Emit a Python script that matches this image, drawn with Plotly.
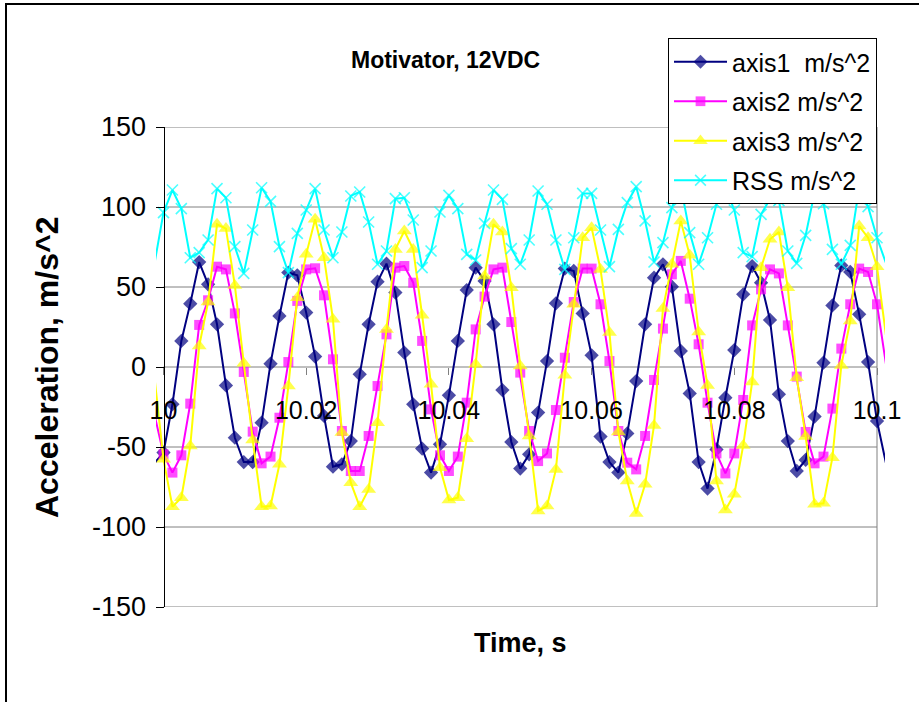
import plotly.graph_objects as go

# ---- data (acceleration samples, m/s^2) ----
T_START = 9.99875      # time of first sample, s
T_STEP = 0.00125       # sample period, s

axis1 = [-60, -53.5, -23.3, 16.3, 39.6, 65.6, 51.7, 26.7, -11.5, -44.2, -59.4,
         -59.4, -34.8, 2.1, 31.9, 59, 57.3, 34, 6.5, -30.6, -62.3,
         -60.8, -46.3, -4.6, 26.7, 53.3, 64.6, 46.5, 9, -23.3, -51,
         -66, -48.3, -17.7, 16.3, 48.1, 62.1, 53.8, 26.7, -14.4, -46.9,
         -63.5, -54.6, -28.5, 3.7, 39.8, 61.5, 60, 33.5, 7.3, -43.5,
         -59.4, -66, -41.5, -8.8, 26.7, 55.8, 64.2, 50.2, 10, -16.5,
         -59.4, -76, -51.5, -19.2, 10.6, 45.4, 63.1, 52.7, 29.4, -17.1,
         -46.3, -65, -58.1, -31, 2.7, 38.5, 63.5, 59.4, 32.9, 3.1,
         -33.8, -60]

axis2 = [-30, -54.6, -66, -55.2, -22.9, 26.3, 41.7, 62.7, 61, 33.5, -3.1,
         -40.4, -60.2, -56, -31.7, 3.1, 41.3, 61, 61.7, 44.8, 4.8,
         -40, -65, -65, -43.1, -11.9, 20.4, 62.1, 63.1, 52.7, 16.3,
         -26.5, -55.2, -65, -56, -22.3, 23.5, 44, 61, 62.1, 28.1,
         -3.5, -40, -58.8, -54, -26.9, 5.8, 40.6, 61.5, 61.5, 39.2,
         3.7, -40, -59.8, -64, -43.1, -8.1, 24, 57.9, 66.3, 42.7,
         14.2, -22.3, -54, -66.5, -54, -20.6, 26, 48.5, 61, 58.5,
         26, -6, -40.6, -60.2, -56, -26, 11.5, 39.2, 61.5, 59.4,
         39.2, 2]

axis3 = [-7, -57.7, -87.3, -81.7, -49.4, 13.1, 40.6, 89.2, 86.5, 51, 2.3,
         -45.6, -87.3, -86.9, -60.8, -11.9, 43.3, 70.4, 92.3, 68.3, 29.8,
         -41, -72.3, -87.3, -76.5, -34.8, 23.5, 73.5, 85, 73.5, 32.3,
         -10.8, -62.9, -83.1, -81.7, -44.8, 1.7, 56.9, 89.2, 84.4, 49.6,
         0.6, -43.1, -90, -86.9, -64, -5.2, 39.2, 80.8, 87.1, 61,
         21.5, -40.6, -71.3, -91.5, -73.3, -36.5, 36.5, 64.2, 91.3, 69.8,
         21.9, -11.5, -71.3, -89.4, -79.6, -49, -9.4, 62.1, 79.8, 84.4,
         49.6, -6.7, -43.5, -85.8, -85.2, -56.7, 1, 28.8, 88.1, 80.8,
         62.7, 20]

rss = [65, 96.5, 110.6, 99, 68.3, 71.5, 79.4, 111.5, 105.8, 75.2, 58.5,
       85.6, 112, 103.5, 75.2, 59, 83.5, 98.1, 111.5, 85.6, 68.3,
       84.4, 106.9, 109.4, 90.6, 64.2, 72.5, 105.2, 105.8, 91.9, 62.1,
       72.5, 96.9, 107.3, 99, 70.4, 66.9, 89.8, 110.6, 104.8, 74,
       64.2, 79.4, 110, 101.7, 79.4, 61, 80.8, 108.5, 108.5, 85.6,
       62.7, 86, 102.7, 112.7, 91.3, 65.6, 77.7, 99.6, 113, 84,
       64.2, 80.8, 101.7, 112, 98.1, 71.5, 69, 95.4, 105, 104,
       72.5, 64.8, 82.3, 109, 102, 73.5, 64.2, 76, 112, 100.2,
       80.8, 65]

series_names = ["axis1\u00a0 m/s^2", "axis2 m/s^2", "axis3 m/s^2", "RSS m/s^2"]

x_tick_vals = [10.0, 10.02, 10.04, 10.06, 10.08, 10.1]
x_tick_text = ["10", "10.02", "10.04", "10.06", "10.08", "10.1"]
y_tick_vals = [-150, -100, -50, 0, 50, 100, 150]
y_tick_text = ["-150", "-100", "-50", "0", "50", "100", "150"]

time = [round(T_START + T_STEP * k, 6) for k in range(len(axis1))]

# ---- page geometry ----
W, H = 919, 702
M_L, M_R, M_T, M_B = 156, 34, 127, 95
PW = W - M_L - M_R
PH = H - M_T - M_B
X0, X1 = 10.0, 10.1
PX_PER_S = 7135.0
X_RANGE = [X0 - 7.5 / PX_PER_S, X0 + (PW - 7.5) / PX_PER_S]


def paper_x(px):
    return (px - M_L) / PW


def paper_y(py):
    return (H - M_B - py) / PH


FONT = "Arial, 'Liberation Sans', sans-serif"

styles = [
    dict(color="#000080", symbol="diamond", size=11),
    dict(color="#FF00FF", symbol="square", size=10),
    dict(color="#FFFF00", symbol="triangle-up", size=13),
    dict(color="#00FFFF", symbol="x-thin", size=11),
]

fig = go.Figure()
n = len(time)
for k, (name, vals, st) in enumerate(zip(series_names, [axis1, axis2, axis3, rss], styles)):
    # first and last samples sit just outside the time window: line only
    sizes = [0] + [st["size"]] * (n - 2) + [0]
    marker = dict(symbol=st["symbol"], size=sizes, color=st["color"])
    if st["symbol"] == "x-thin":
        marker["line"] = dict(color=st["color"], width=1.6)
    else:
        marker["line"] = dict(width=0)
    fig.add_trace(go.Scatter(
        x=time, y=vals, name=name, mode="lines+markers",
        legendgroup=f"g{k}",
        line=dict(color=st["color"], width=2),
        marker=marker,
    ))

shapes = []
# horizontal gridlines, spanning only the time window
for v in y_tick_vals:
    shapes.append(dict(type="line", xref="x", yref="y", x0=X0, x1=X1, y0=v, y1=v,
                       line=dict(color="#808080", width=1), layer="below"))
# right border of plot area
shapes.append(dict(type="line", xref="x", yref="y", x0=X1, x1=X1, y0=-150, y1=150,
                   line=dict(color="#808080", width=1), layer="below"))
# outer chart frame
shapes.append(dict(type="rect", xref="paper", yref="paper",
                   x0=paper_x(6), x1=paper_x(1100), y0=paper_y(4), y1=paper_y(900),
                   line=dict(color="black", width=2), fillcolor="rgba(0,0,0,0)",
                   layer="below"))

annotations = [
    dict(text="<b>Motivator, 12VDC</b>", x=paper_x(445), y=paper_y(45),
         xref="paper", yref="paper", showarrow=False,
         font=dict(family=FONT, size=23, color="black")),
    dict(text="<b>Time, s</b>", x=paper_x(520), y=paper_y(660),
         xref="paper", yref="paper", showarrow=False,
         font=dict(family=FONT, size=27, color="black")),
    dict(text="<b>Acceleration, m/s^2</b>", x=paper_x(27), y=paper_y(368),
         xref="paper", yref="paper", showarrow=False, textangle=-90,
         font=dict(family=FONT, size=32, color="black")),
]

fig.update_layout(
    width=W, height=H,
    margin=dict(l=M_L, r=M_R, t=M_T, b=M_B, pad=0),
    paper_bgcolor="white", plot_bgcolor="white",
    font=dict(family=FONT, size=25, color="black"),
    showlegend=True,
    legend=dict(
        x=paper_x(668), y=paper_y(38), xanchor="left", yanchor="top",
        bgcolor="white", bordercolor="black", borderwidth=1,
        font=dict(family=FONT, size=25, color="black"),
        itemwidth=53, tracegroupgap=4,
    ),
    xaxis=dict(
        range=X_RANGE, anchor="free", position=0.5,
        showgrid=False, zeroline=False, showline=False,
        tickmode="array", tickvals=x_tick_vals, ticktext=x_tick_text,
        ticks="outside", ticklen=7, tickcolor="#808080", tickwidth=1,
        ticklabelstandoff=14,
        tickfont=dict(family=FONT, size=25, color="black"),
    ),
    yaxis=dict(
        range=[-150, 150], anchor="free", position=paper_x(163.5),
        showgrid=False, zeroline=False,
        showline=True, linecolor="black", linewidth=1,
        tickmode="array", tickvals=y_tick_vals, ticktext=y_tick_text,
        ticks="outside", ticklen=8, tickcolor="black", tickwidth=1,
        ticklabelstandoff=4,
        tickfont=dict(family=FONT, size=27, color="black"),
    ),
    shapes=shapes,
    annotations=annotations,
)

fig.write_html("out.html")
